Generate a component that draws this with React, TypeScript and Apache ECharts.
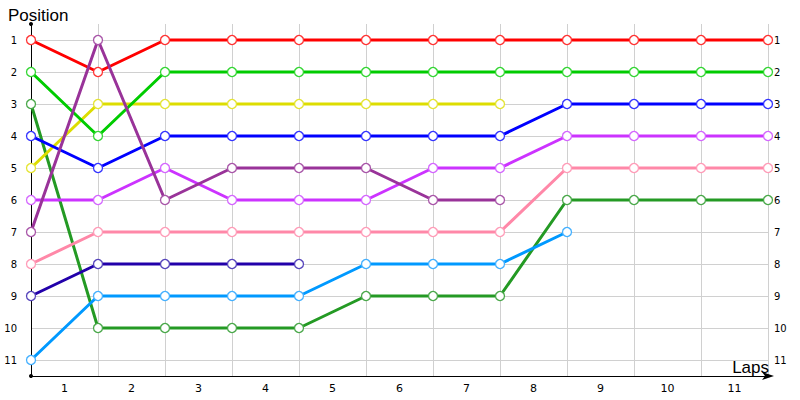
import React, { useEffect, useRef } from "react";
import * as echarts from "echarts";

const lapLabels = ["1", "2", "3", "4", "5", "6", "7", "8", "9", "10", "11"];
const positions = [1, 2, 3, 4, 5, 6, 7, 8, 9, 10, 11];

const red = [1, 2, 1, 1, 1, 1, 1, 1, 1, 1, 1, 1];
const green = [2, 4, 2, 2, 2, 2, 2, 2, 2, 2, 2, 2];
const darkGreen = [3, 10, 10, 10, 10, 9, 9, 9, 6, 6, 6, 6];
const blue = [4, 5, 4, 4, 4, 4, 4, 4, 3, 3, 3, 3];
const yellow = [5, 3, 3, 3, 3, 3, 3, 3];
const purple = [7, 1, 6, 5, 5, 5, 6, 6];
const magenta = [6, 6, 5, 6, 6, 6, 5, 5, 4, 4, 4, 4];
const pink = [8, 7, 7, 7, 7, 7, 7, 7, 5, 5, 5, 5];
const darkBlue = [9, 8, 8, 8, 8];
const lightBlue = [11, 9, 9, 9, 9, 8, 8, 8, 7];

const seriesDefs = [
  { name: "A", data: darkGreen, color: "#249a24", symbolColor: "#4aa84a" },
  { name: "B", data: lightBlue, color: "#0099ff", symbolColor: "#44b0ff" },
  { name: "C", data: darkBlue, color: "#2200aa", symbolColor: "#5544bb" },
  { name: "D", data: pink, color: "#ff88a8", symbolColor: "#ff9cb8" },
  { name: "E", data: magenta, color: "#cc33ff", symbolColor: "#d466ff" },
  { name: "F", data: yellow, color: "#dddd00", symbolColor: "#e4e433" },
  { name: "G", data: blue, color: "#0000ff", symbolColor: "#3333ff" },
  { name: "H", data: green, color: "#00cc00", symbolColor: "#33d633" },
  { name: "I", data: red, color: "#ff0000", symbolColor: "#ff3333" },
  { name: "J", data: purple, color: "#993399", symbolColor: "#a855a8" },
];

export default function App() {
  const ref = useRef<HTMLDivElement>(null);
  useEffect(() => {
    if (!ref.current) return;
    const chart = echarts.init(ref.current, null, { renderer: "svg" });
    const labelFont = { fontFamily: "DejaVu Sans", fontSize: 10, color: "#000" };
    const xLabelValues = lapLabels.map((_, i) => i + 0.5);
    chart.setOption({
      animation: false,
      backgroundColor: "#fff",
      title: [
        {
          text: "Position",
          left: 3,
          top: 2,
          textStyle: { fontFamily: "Liberation Sans", fontSize: 17, fontWeight: "normal", color: "#000" },
        },
        {
          text: "Laps",
          right: 26,
          top: 354,
          textStyle: { fontFamily: "Liberation Sans", fontSize: 17, fontWeight: "normal", color: "#000" },
        },
      ],
      grid: { left: 31, right: 32, top: 24, bottom: 24, containLabel: false },
      xAxis: {
        type: "value",
        min: 0,
        max: 11,
        interval: 1,
        axisLine: {
          show: true,
          lineStyle: { color: "#000", width: 1 },
          symbol: ["none", "arrow"],
          symbolSize: [6, 12],
          symbolOffset: [0, 6],
        },
        axisTick: { show: false },
        axisLabel: {
          ...labelFont,
          fontSize: 11,
          customValues: xLabelValues,
          formatter: (v: number) => lapLabels[Math.floor(v)] ?? "",
          margin: 7,
        },
        splitLine: { show: true, lineStyle: { color: "#d0d0d0", width: 1 } },
      },
      yAxis: [
        {
          type: "value",
          inverse: true,
          min: 0.5,
          max: 11.5,
          axisLine: {
            show: true,
            onZero: false,
            lineStyle: { color: "#000", width: 1 },
            symbol: ["circle", "circle"],
            symbolSize: [4, 4],
          },
          axisTick: { show: false, customValues: positions },
          axisLabel: { ...labelFont, customValues: positions, margin: 14 },
          splitLine: { show: true, lineStyle: { color: "#d0d0d0", width: 1 } },
        },
        {
          type: "value",
          inverse: true,
          min: 0.5,
          max: 11.5,
          position: "right",
          axisLine: { show: false },
          axisTick: { show: false, customValues: positions },
          axisLabel: { ...labelFont, customValues: positions, margin: 6 },
          splitLine: { show: false },
        },
      ],
      series: seriesDefs.map((s) => ({
        type: "line",
        name: s.name,
        data: s.data.map((v, i) => [i, v]),
        symbol: "circle",
        symbolSize: 9,
        lineStyle: { color: s.color, width: 3 },
        itemStyle: { color: "#fff", borderColor: s.symbolColor, borderWidth: 1.3 },
        emphasis: { disabled: true },
      })),
    });
    return () => chart.dispose();
  }, []);
  return <div ref={ref} style={{ width: 800, height: 400, position: "absolute", left: 0, top: 0 }} />;
}
